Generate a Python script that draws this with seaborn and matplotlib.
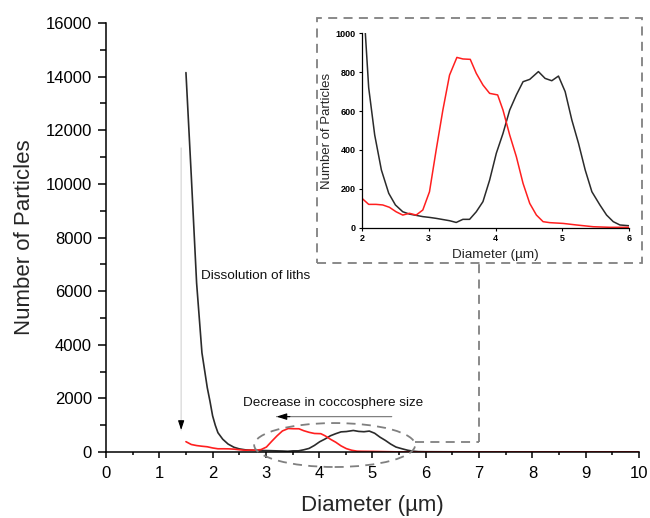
import matplotlib
matplotlib.use("Agg")
import matplotlib.pyplot as plt
import seaborn as sns
import numpy as np
import pandas as pd
from matplotlib.patches import Ellipse, Rectangle
from matplotlib.ticker import MultipleLocator

# ---- data ----
black_x = [1.5, 1.6, 1.7, 1.8, 1.9, 1.95, 2.0, 2.05, 2.1, 2.19, 2.29, 2.4, 2.5, 2.61, 2.71,
           2.91, 3.01, 3.11, 3.31, 3.41, 3.51, 3.61, 3.71, 3.81, 3.91, 4.01, 4.11,
           4.21, 4.31, 4.41, 4.51, 4.64, 4.74, 4.84, 4.94, 5.04, 5.14, 5.24, 5.34,
           5.44, 5.56, 5.66, 5.76, 5.86, 6.0, 7.0, 8.0, 9.0, 10.0]
black_y = [14150, 10300, 6300, 3700, 2400, 1900, 1350, 1000, 720, 477, 297, 177, 117, 82, 70,
           57, 53, 48, 36, 27, 43, 43, 82, 134, 245, 383, 485,
           605, 683, 751, 763, 803, 768, 756, 780, 700, 554, 434, 297,
           185, 117, 65, 31, 14, 10, 4, 2, 1, 0]

red_x = [1.5, 1.6, 1.7, 1.8, 1.9, 2.0, 2.1, 2.21, 2.31, 2.41, 2.51, 2.61, 2.71, 2.81,
         2.91, 3.01, 3.11, 3.21, 3.31, 3.42, 3.51, 3.62, 3.71, 3.81, 3.91, 4.03,
         4.11, 4.21, 4.31, 4.41, 4.51, 4.61, 4.71, 4.81, 5.01, 5.21, 5.46, 5.71,
         6.0, 7.0, 8.0, 9.0, 10.0]
red_y = [385, 280, 240, 215, 195, 151, 120, 120, 117, 105, 82, 65, 74, 65,
         91, 185, 400, 605, 785, 876, 868, 866, 794, 734, 691, 683,
         605, 477, 365, 228, 125, 65, 31, 26, 22, 14, 5, 2,
         2, 0, 0, 0, 0]

main_xticks = [0, 1, 2, 3, 4, 5, 6, 7, 8, 9, 10]
main_yticks = [0, 2000, 4000, 6000, 8000, 10000, 12000, 14000, 16000]
inset_xticks = [2, 3, 4, 5, 6]
inset_yticks = [0, 200, 400, 600, 800, 1000]

BLACK = "#2b2b2b"
RED = "#ff1f1f"
GRAY = "#808080"
DASH = (0, (5, 3.5))

sns.set_theme(style="ticks")
plt.rcParams["font.family"] = ["Liberation Sans", "DejaVu Sans"]

fig = plt.figure(figsize=(6.5, 5.18), dpi=100)
ax = fig.add_axes([106/650, (518-452)/518, (639-106)/650, (452-23)/518])

dfb = pd.DataFrame({"x": black_x, "y": black_y})
dfr = pd.DataFrame({"x": red_x, "y": red_y})
sns.lineplot(data=dfb, x="x", y="y", ax=ax, color=BLACK, lw=1.2, estimator=None, sort=False)
sns.lineplot(data=dfr, x="x", y="y", ax=ax, color=RED, lw=1.2, estimator=None, sort=False)

ax.set_xlim(0, 10)
ax.set_ylim(0, 16000)
ax.set_xticks(main_xticks)
ax.set_xticklabels([str(t) for t in main_xticks])
ax.set_yticks(main_yticks)
ax.set_yticklabels([str(t) for t in main_yticks])
ax.xaxis.set_minor_locator(MultipleLocator(0.5))
ax.yaxis.set_minor_locator(MultipleLocator(1000))
ax.tick_params(axis="x", which="major", direction="out", length=4.5, width=1.1,
               labelsize=12, colors="black", pad=5.5)
ax.tick_params(axis="x", which="minor", direction="out", length=2.5, width=1.1, colors="black")
ax.tick_params(axis="y", which="major", direction="out", length=6, width=1.1,
               labelsize=12, colors="black", pad=4)
ax.tick_params(axis="y", which="minor", direction="out", length=4, width=1.1, colors="black")
for s in ["top", "right"]:
    ax.spines[s].set_visible(False)
for s in ["left", "bottom"]:
    ax.spines[s].set_linewidth(1.1)
    ax.spines[s].set_color("black")
ax.set_xlabel("Diameter (µm)", fontsize=16, labelpad=10)
ax.set_ylabel("Number of Particles", fontsize=16, labelpad=8)

# annotations
ax.annotate("", xy=(1.41, 820), xytext=(1.41, 11340),
            arrowprops=dict(arrowstyle="-", color="#d8d8d8", lw=0.9, shrinkA=0, shrinkB=0),
            annotation_clip=False)
ax.annotate("", xy=(1.41, 820), xytext=(1.41, 1100),
            arrowprops=dict(arrowstyle="-|>,head_length=0.45,head_width=0.15",
                            color="black", lw=0.8, shrinkA=0, shrinkB=0))
ax.text(1.79, 6570, "Dissolution of liths", fontsize=9.7, va="center", ha="left", color="#111111")

ax.annotate("", xy=(3.2, 1320), xytext=(5.36, 1320),
            arrowprops=dict(arrowstyle="-", color=GRAY, lw=0.9, shrinkA=0, shrinkB=0))
ax.annotate("", xy=(3.2, 1320), xytext=(3.45, 1320),
            arrowprops=dict(arrowstyle="-|>,head_length=0.5,head_width=0.16",
                            color="black", lw=0.8, shrinkA=0, shrinkB=0))
ax.text(4.26, 1840, "Decrease in coccosphere size", fontsize=9.7, va="center", ha="center",
        color="#111111")

ell = Ellipse((4.29, 260), width=3.02, height=1640, fill=False, edgecolor=GRAY,
              lw=1.3, linestyle=DASH, clip_on=False, zorder=5)
ax.add_patch(ell)
ax.plot([5.80, 7.0], [385, 385], color=GRAY, lw=1.3, linestyle=DASH, clip_on=False)
ax.plot([7.0, 7.0], [385, 7050], color=GRAY, lw=1.3, linestyle=DASH, clip_on=False)

# dashed frame around inset
rect = Rectangle((317/650, (518-263)/518), (642-317)/650, (263-18)/518,
                 transform=fig.transFigure, fill=False, edgecolor=GRAY, lw=1.3,
                 linestyle=DASH, zorder=0)
fig.patches.append(rect)

# inset
axi = fig.add_axes([362/650, (518-227.7)/518, (629.3-362)/650, (227.7-33.3)/518])
sns.lineplot(data=dfb, x="x", y="y", ax=axi, color=BLACK, lw=1.1, estimator=None, sort=False)
sns.lineplot(data=dfr, x="x", y="y", ax=axi, color=RED, lw=1.1, estimator=None, sort=False)
axi.set_xlim(2, 6)
axi.set_ylim(0, 1000)
axi.set_xticks(inset_xticks)
axi.set_xticklabels([str(t) for t in inset_xticks], fontweight="bold")
axi.set_yticks(inset_yticks)
axi.set_yticklabels([str(t) for t in inset_yticks], fontweight="bold")
axi.tick_params(axis="both", which="major", direction="out", length=2, width=0.8,
                labelsize=6.5, colors="black", pad=2.5)
for s in ["top", "right"]:
    axi.spines[s].set_visible(False)
for s in ["left", "bottom"]:
    axi.spines[s].set_linewidth(0.9)
    axi.spines[s].set_color("black")
axi.set_xlabel("Diameter (µm)", fontsize=9.7, labelpad=4)
axi.set_ylabel("Number of Particles", fontsize=9.5, labelpad=2)
axi.patch.set_alpha(0)

fig.savefig("out.png", dpi=100)
